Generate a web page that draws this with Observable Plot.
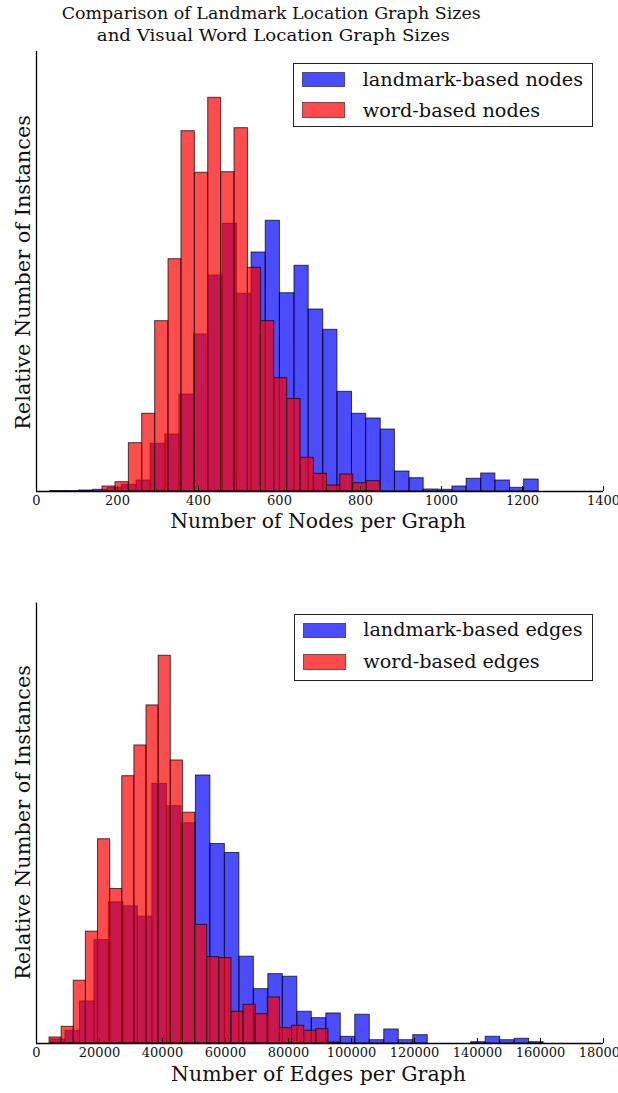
<!DOCTYPE html>
<html><head><meta charset="utf-8">
<script src="https://cdn.jsdelivr.net/npm/d3@7"></script>
<script src="https://cdn.jsdelivr.net/npm/@observablehq/plot@0.6"></script>
<style>
html,body{margin:0;padding:0;background:#fff;}
#page{position:relative;width:618px;height:1093px;overflow:hidden;background:#fff;font-family:"DejaVu Serif",serif;color:#111;}
.t{position:absolute;white-space:nowrap;line-height:1;display:inline-block;}
.chart{position:absolute;left:0;}
.box{position:absolute;border:1px solid #222;background:#fff;box-sizing:border-box;}
.patch{position:absolute;border:1px solid rgba(0,0,0,0.7);box-sizing:border-box;}
</style></head><body><div id="page"></div>
<script>
// ---------- data ----------
const titleLines = ["Comparison of Landmark Location Graph Sizes", "and Visual Word Location Graph Sizes"];
const yLabel = "Relative Number of Instances";
const nodesXLabel = "Number of Nodes per Graph";
const edgesXLabel = "Number of Edges per Graph";
const nodeSeries = ["landmark-based nodes", "word-based nodes"];
const edgeSeries = ["landmark-based edges", "word-based edges"];
const nodeTicks = [0, 200, 400, 600, 800, 1000, 1200, 1400];
const edgeTicks = [0, 20000, 40000, 60000, 80000, 100000, 120000, 140000, 160000, 180000];

// top histogram: bin edges and relative counts
const landmarkNodeEdges = [34,70,105,140,176,211,247,282,318,353,389,424,460,495,531,566,601,637,672,708,743,779,814,850,885,921,956,992,1027,1062,1098,1133,1169,1204,1240];
const landmarkNodeCounts = [0.5,0.5,1,1.7,3.7,6.7,11,47.7,57,97,157,216,267.7,197.7,239,270.7,198.3,225.7,182,161.7,99.7,77.7,73,62,20,13.3,2,1.7,5,12.7,18,11,3.7,12];
const wordNodeEdges = [163,195,228,261,293,326,358,391,424,456,489,522,554,587,619,652,685,717,750,782,815,848];
const wordNodeCounts = [5,9.3,48.3,77.7,170.3,232.3,360.3,318.7,393.7,319.3,363.3,223.7,170.3,113.3,92.5,33.7,17.7,6,17,8.3,10.3];

// bottom histogram
const landmarkEdgeEdges = [4600,9200,13800,18400,23000,27600,32200,36800,41400,46000,50600,55200,59800,64400,69000,73600,78200,82800,87400,92000,96600,101200,105800,110400,115000,119600,124200,128800,133400,138000,142600,147200,151800,156400,161000];
const landmarkEdgeCounts = [4,12.7,42,103.3,141,137,126.7,259.3,237,220,267.7,199.3,190.3,86.7,54.3,69.3,66.7,31.7,25.3,30,6.7,28.7,3.3,14,3.3,8.3,0,0,0,1.3,6.7,3.3,4.7,1.3];
const wordEdgeEdges = [4130,7980,11830,15680,19530,23380,27230,31080,34930,38780,42630,46480,50330,54180,58030,61880,65730,69580,73430,77280,81130,84980,88830,92680,96530];
const wordEdgeCounts = [6,16.7,62.7,111.7,204,154.3,267,297.7,337.7,387.3,282.7,230.5,118.5,86.3,85.3,31.7,38.7,29.3,46,15.3,17.7,12.7,14.3,1];

const yMax = 440;
const blueFill = "#0000ff", redFill = "#ff0000";

// ---------- helpers ----------
const page = document.getElementById("page");
function bins(edges, counts) {
  return counts.map((c, i) => ({x1: edges[i], x2: edges[i + 1], y1: 0, y2: c}));
}
function histChart({top, height, mt, mb, domain, ticks, blue, red}) {
  const frameH = height - mt - mb;
  const barStyle = {stroke: "#000", strokeOpacity: 0.7, strokeWidth: 1, fillOpacity: 0.7};
  const svg = Plot.plot({
    width: 618, height, marginLeft: 36, marginRight: 15, marginTop: mt, marginBottom: mb,
    style: {fontFamily: '"DejaVu Serif", serif', fontSize: "13px", color: "#111", background: "transparent", overflow: "visible"},
    x: {domain, label: null},
    y: {domain: [0, yMax], axis: null, label: null},
    marks: [
      Plot.rect(blue, {x1: "x1", x2: "x2", y1: "y1", y2: "y2", fill: blueFill, ...barStyle}),
      Plot.rect(red, {x1: "x1", x2: "x2", y1: "y1", y2: "y2", fill: redFill, ...barStyle}),
      Plot.ruleX([domain[0]], {stroke: "#000", strokeWidth: 1.3}),
      Plot.ruleY([0], {stroke: "#000", strokeWidth: 1.3}),
      Plot.tickX(ticks, {x: d => d, insetTop: frameH - 5, stroke: "#000", strokeWidth: 1}),
      Plot.axisX(ticks, {tickSize: 0, tickPadding: 4, tickFormat: d => String(d), fontSize: 13, fill: "#111"})
    ]
  });
  svg.classList.add("chart");
  svg.style.top = top + "px";
  page.appendChild(svg);
}
function addText(str, o) {
  const el = document.createElement("div");
  el.className = "t";
  el.textContent = str;
  page.appendChild(el);
  let fs, sx = 1;
  if (o.fontSize) {
    fs = o.fontSize;
    el.style.fontSize = fs + "px";
    sx = o.width / el.getBoundingClientRect().width;
  } else {
    el.style.fontSize = "20px";
    const w0 = el.getBoundingClientRect().width;
    fs = 20 * o.width / w0;
    el.style.fontSize = fs + "px";
  }
  const w = el.getBoundingClientRect().width;
  if (o.rotate) {
    const cx = o.baselineX - 0.346 * fs;
    el.style.left = (cx - w / 2) + "px";
    el.style.top = (o.cy - fs / 2) + "px";
    el.style.transform = "rotate(-90deg)";
  } else {
    const left = o.cx != null ? o.cx - w / 2 : o.left;
    el.style.left = left + "px";
    el.style.top = (o.baseline - 0.846 * fs) + "px";
    if (sx !== 1) el.style.transform = "scaleX(" + sx + ")";
  }
  return el;
}
function addLegend(labels, {x0, y0, x1, y1, px0, px1, p1, p2, tx, b1, b2, tw}) {
  const box = document.createElement("div");
  box.className = "box";
  Object.assign(box.style, {left: x0 + "px", top: y0 + "px", width: (x1 - x0) + "px", height: (y1 - y0) + "px"});
  page.appendChild(box);
  [[p1, blueFill], [p2, redFill]].forEach(([p, c]) => {
    const d = document.createElement("div");
    d.className = "patch";
    Object.assign(d.style, {left: px0 + "px", top: p[0] + "px", width: (px1 - px0) + "px", height: (p[1] - p[0]) + "px", background: c, opacity: 0.7});
    page.appendChild(d);
  });
  const e1 = addText(labels[0], {left: tx, baseline: b1, width: tw});
  const fs = parseFloat(e1.style.fontSize);
  const e2 = addText(labels[1], {left: tx, baseline: b2, width: 1});
  e2.style.fontSize = fs + "px";
  e2.style.top = (b2 - 0.846 * fs) + "px";
}

// ---------- charts ----------
histChart({top: 40, height: 500, mt: 11, mb: 49, domain: [0, 1400], ticks: nodeTicks,
  blue: bins(landmarkNodeEdges, landmarkNodeCounts), red: bins(wordNodeEdges, wordNodeCounts)});
histChart({top: 590, height: 503, mt: 12.5, mb: 50, domain: [0, 180000], ticks: edgeTicks,
  blue: bins(landmarkEdgeEdges, landmarkEdgeCounts), red: bins(wordEdgeEdges, wordEdgeCounts)});

// ---------- texts ----------
addText(titleLines[0], {cx: 271.5, baseline: 19.5, width: 419, fontSize: 16.5});
addText(titleLines[1], {cx: 273.5, baseline: 42, width: 353, fontSize: 16.5});
addText(nodesXLabel, {cx: 318, baseline: 528, width: 296});
addText(edgesXLabel, {cx: 318.5, baseline: 1081, width: 295});
addText(yLabel, {rotate: true, baselineX: 31, cy: 272, width: 315});
addText(yLabel, {rotate: true, baselineX: 31, cy: 822, width: 315});

addLegend(nodeSeries, {x0: 293, y0: 62.5, x1: 593, y1: 126.5, px0: 301.7, px1: 345, p1: [71.7, 86.7], p2: [101.7, 118.3], tx: 362.7, b1: 86, b2: 117.5, tw: 220.6});
addLegend(edgeSeries, {x0: 294, y0: 614, x1: 593, y1: 681, px0: 303.3, px1: 346, p1: [622.7, 638.3], p2: [654.3, 670], tx: 363.3, b1: 636.7, b2: 668, tw: 219.4});
</script></body></html>
